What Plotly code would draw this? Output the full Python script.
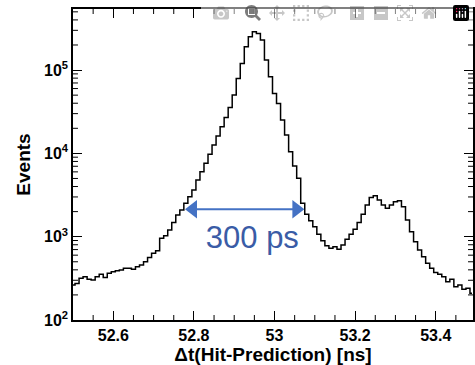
import plotly.graph_objects as go

# bin centres (ns) and counts
t_ns = [round(52.50 + 0.01 * i, 2) for i in range(100)]
log_counts = [
    2.42, 2.44, 2.50, 2.52, 2.49, 2.48, 2.52, 2.55, 2.51, 2.56,
    2.58, 2.59, 2.60, 2.62, 2.62, 2.61, 2.64, 2.66, 2.70, 2.75,
    2.80, 2.83, 2.98, 3.01, 3.08, 3.17, 3.26, 3.32, 3.40, 3.48,
    3.56, 3.68, 3.78, 3.88, 3.99, 4.10, 4.21, 4.32, 4.43, 4.55,
    4.70, 4.90, 5.08, 5.28, 5.40, 5.46, 5.44, 5.36, 5.12, 4.92,
    4.72, 4.60, 4.40, 4.22, 4.02, 3.85, 3.70, 3.40, 3.27, 3.19,
    3.12, 3.03, 2.95, 2.89, 2.86, 2.88, 2.85, 2.90, 2.97, 3.03,
    3.09, 3.17, 3.27, 3.38, 3.47, 3.49, 3.44, 3.38, 3.34, 3.38,
    3.42, 3.43, 3.36, 3.20, 3.06, 2.94, 2.84, 2.76, 2.68, 2.62,
    2.57, 2.55, 2.52, 2.46, 2.49, 2.40, 2.42, 2.37, 2.38, 2.32,
]
events = [round(10 ** v) for v in log_counts]

x_major = [52.6, 52.8, 53.0, 53.2, 53.4]
x_major_text = ["52.6", "52.8", "53", "53.2", "53.4"]
x_minor = [52.55, 52.65, 52.7, 52.75, 52.85, 52.9, 52.95, 53.05, 53.1,
           53.15, 53.25, 53.3, 53.35, 53.45]
y_major = [1e2, 1e3, 1e4, 1e5]
y_major_text = ["10<sup>2</sup>", "10<sup>3</sup>", "10<sup>4</sup>", "10<sup>5</sup>"]
y_minor = [m * 10 ** e for e in range(2, 6) for m in range(2, 10)]

x_range = [52.5, 53.4925]
y_range_log = [2, 5.733]

arrow_left = 52.778
arrow_right = 53.074
arrow_level = 2140
label_x = 52.945
label_y = 912
label_text = "300 ps"

plot_w_px, plot_h_px = 402, 311
px_x = (x_range[1] - x_range[0]) / plot_w_px          # ns per pixel
px_log = (y_range_log[1] - y_range_log[0]) / plot_h_px  # decades per pixel

fig = go.Figure()
fig.add_trace(go.Scatter(
    x=t_ns, y=events, mode="lines", line_shape="hvh",
    line=dict(color="black", width=1.5),
))

# minor ticks on all four sides, built from the minor tick values
minor_len_px = 5
tx, ty = [], []
for v in x_minor:
    tx += [v, v, None, v, v, None]
    ty += [10 ** y_range_log[0], 10 ** (y_range_log[0] + minor_len_px * px_log), None,
           10 ** y_range_log[1], 10 ** (y_range_log[1] - minor_len_px * px_log), None]
for v in y_minor:
    tx += [x_range[0], x_range[0] + minor_len_px * px_x, None,
           x_range[1], x_range[1] - minor_len_px * px_x, None]
    ty += [v, v, None, v, v, None]
fig.add_trace(go.Scatter(x=tx, y=ty, mode="lines",
                         line=dict(color="black", width=1)))

# double-headed arrow (line + triangle heads) and its label
head_px = 8
fig.add_trace(go.Scatter(
    x=[arrow_left + head_px * px_x, arrow_right - head_px * px_x],
    y=[arrow_level, arrow_level], mode="lines+markers",
    line=dict(color="#4472C4", width=2),
    marker=dict(symbol=["triangle-left", "triangle-right"], size=16,
                color="#4472C4", line=dict(width=0)),
))
fig.add_trace(go.Scatter(
    x=[label_x], y=[label_y], mode="text", text=[label_text],
    textfont=dict(size=31, color="#3A5CA6",
                  family="Liberation Sans, Arial, Helvetica, sans-serif"),
))

font_family = "Liberation Sans, Arial, Helvetica, sans-serif"

fig.update_layout(
    width=475, height=365,
    margin=dict(l=73, r=0, t=9, b=45),
    paper_bgcolor="white", plot_bgcolor="white",
    showlegend=False,
    font=dict(family=font_family, color="black"),
    xaxis=dict(
        range=x_range,
        showgrid=False, zeroline=False,
        showline=True, linecolor="black", linewidth=1.5, mirror="allticks",
        ticks="inside", ticklen=9, tickcolor="black",
        tickvals=x_major, ticktext=x_major_text,
        tickfont=dict(size=16, family=font_family, color="black", weight="bold"),
        title=dict(text="Δt(Hit-Prediction) [ns]", standoff=6,
                   font=dict(size=19, family=font_family, color="black",
                             weight="bold")),
    ),
    yaxis=dict(
        type="log", range=y_range_log,
        showgrid=False, zeroline=False,
        showline=True, linecolor="black", linewidth=1.5, mirror="allticks",
        ticks="inside", ticklen=9, tickcolor="black",
        tickvals=y_major, ticktext=y_major_text,
        tickfont=dict(size=16, family=font_family, color="black", weight="bold"),
        title=dict(text="Events", standoff=8,
                   font=dict(size=19, family=font_family, color="black",
                             weight="bold")),
    ),
)

fig.write_html("out.html", post_script="document.body.style.margin='0';")
